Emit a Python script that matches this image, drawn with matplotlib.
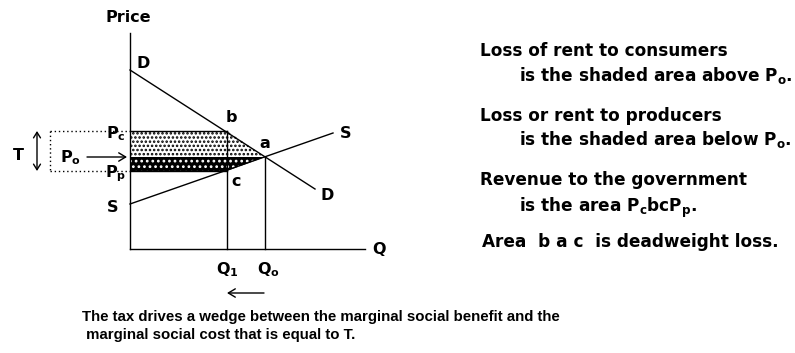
import matplotlib
matplotlib.use("Agg")
import matplotlib.pyplot as plt
from matplotlib.patches import Polygon, FancyArrowPatch

plt.rcParams['mathtext.fontset'] = 'custom'
plt.rcParams['mathtext.bf'] = 'DejaVu Sans:bold'
plt.rcParams['mathtext.rm'] = 'DejaVu Sans:bold'
plt.rcParams['hatch.linewidth'] = 1.2

# ---- data (diagram coordinates) ----
demand_x = [130, 315]
demand_y = [70, 189]
supply_x = [130, 333]
supply_y = [204, 133]
price_levels = {'Pc': 131, 'Po': 157, 'Pp': 171}
quantities = {'Q1': 227, 'Q0': 265}
axis_origin = (130, 249)
axis_top = 33
axis_right = 365

notes = [
    ("Loss of rent to consumers", 480, 51),
    (r"is the shaded area above $\mathbf{P_o}$.", 519, 75),
    ("Loss or rent to producers", 480, 116),
    (r"is the shaded area below $\mathbf{P_o}$.", 519, 140),
    ("Revenue to the government", 480, 180),
    (r"is the area $\mathbf{P_c}$bc$\mathbf{P_p}$.", 519, 208),
    ("Area  b a c  is deadweight loss.", 482, 242),
]
caption = ["The tax drives a wedge between the marginal social benefit and the",
           " marginal social cost that is equal to T."]

fig = plt.figure(figsize=(7.95, 3.53), dpi=100)
ax = fig.add_axes([0, 0, 1, 1])
ax.set_xlim(0, 795)
ax.set_ylim(353, 0)
ax.axis('off')

pc, po, pp = price_levels['Pc'], price_levels['Po'], price_levels['Pp']
q1, q0 = quantities['Q1'], quantities['Q0']
ox, oy = axis_origin

# shaded areas
light = Polygon([(ox, pc), (q1, pc), (q0, po), (ox, po)], closed=True,
                facecolor='white', edgecolor='black', hatch='....', linewidth=0)
ax.add_patch(light)
dark = Polygon([(ox, po), (q0, po), (q1, pp), (ox, pp)], closed=True,
               facecolor='black', edgecolor='white', hatch='...', linewidth=0)
ax.add_patch(dark)

lw = 1.0
# axes
ax.plot([ox, ox], [axis_top, oy], color='black', lw=lw)
ax.plot([ox, axis_right], [oy, oy], color='black', lw=lw)
# curves
ax.plot(demand_x, demand_y, color='black', lw=lw)
ax.plot(supply_x, supply_y, color='black', lw=lw)
# guides
ax.plot([ox, q1], [pc, pc], color='black', lw=lw)
ax.plot([ox, q1], [pp, pp], color='black', lw=lw)
ax.plot([q1, q1], [pc, oy], color='black', lw=lw)
ax.plot([q0, q0], [po, oy], color='black', lw=lw)
# dotted box
ax.plot([50, ox], [pc, pc], color='black', lw=1, ls=(0, (1, 2)))
ax.plot([50, ox], [pp, pp], color='black', lw=1, ls=(0, (1, 2)))
ax.plot([50, 50], [pc, pp], color='black', lw=1, ls=(0, (1, 2)))

# arrows
ax.add_patch(FancyArrowPatch((37, pc), (37, pp), arrowstyle='<->,head_length=4,head_width=2.5',
                             color='black', lw=1, shrinkA=0, shrinkB=0))
ax.add_patch(FancyArrowPatch((87, po), (127, po), arrowstyle='->,head_length=5,head_width=3',
                             color='black', lw=1, shrinkA=0, shrinkB=0))
ax.add_patch(FancyArrowPatch((264, 293), (227, 293), arrowstyle='->,head_length=5,head_width=3',
                             color='black', lw=1, shrinkA=0, shrinkB=0))

fs = 11.5
tk = dict(fontsize=fs, fontweight='bold', color='black', family=['DejaVu Sans'])
ax.text(128, 17, "Price", ha='center', va='center', **tk)
ax.text(136, 63, "D", ha='left', va='center', **tk)
ax.text(231, 117, "b", ha='center', va='center', **tk)
ax.text(265, 143, "a", ha='center', va='center', **tk)
ax.text(340, 134, "S", ha='left', va='center', **tk)
ax.text(321, 195, "D", ha='left', va='center', **tk)
ax.text(113, 208, "S", ha='center', va='center', **tk)
ax.text(236, 181, "c", ha='center', va='center', **tk)
ax.text(372, 250, "Q", ha='left', va='center', **tk)
ax.text(227, 270, r"$\mathbf{Q_1}$", ha='center', va='center', **tk)
ax.text(268, 270, r"$\mathbf{Q_o}$", ha='center', va='center', **tk)
ax.text(18, 155, "T", ha='center', va='center', **tk)
ax.text(126, 134, r"$\mathbf{P_c}$", ha='right', va='center', **tk)
ax.text(126, 174, r"$\mathbf{P_p}$", ha='right', va='center', **tk)
ax.text(60, 158, r"$\mathbf{P_o}$", ha='left', va='center', **tk)

nk = dict(tk)
nk['fontsize'] = 12.2
for s, x, y in notes:
    ax.text(x, y, s, ha='left', va='center', **nk)

ck = dict(fontsize=10.8, fontweight='bold', color='black',
          family=['Liberation Sans', 'DejaVu Sans'])
ax.text(82, 317, caption[0], ha='left', va='center', **ck)
ax.text(82, 335, caption[1], ha='left', va='center', **ck)

fig.savefig("out.png", dpi=100)
